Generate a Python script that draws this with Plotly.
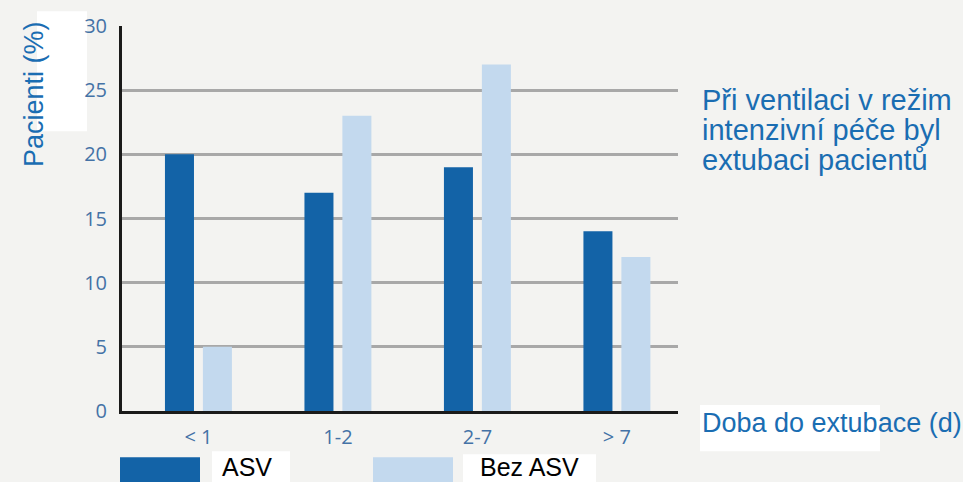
import plotly.graph_objects as go

# ---- data ----
categories = ["< 1", "1-2", "2-7", "> 7"]
asv = [20, 17, 19, 14]
bez_asv = [5, 23, 27, 12]
y_ticks = [0, 5, 10, 15, 20, 25, 30]
series_names = ["ASV", "Bez ASV"]
y_title = "Pacienti (%)"
x_title = "Doba do extubace (d)"
side_text = ["Při ventilaci v režim", "intenzivní péče byl", "extubaci pacientů"]

# ---- layout geometry (pixels) ----
W, H = 963, 482
L, R, T, B = 122, 678, 20, 411
PW, PH = R - L, B - T

def px(x):
    return (x - L) / PW

def py(y):
    return (B - y) / PH

C_ASV = "#1363a7"
C_BEZ = "#c3d9ee"
TXT = "#1a6db2"
TICK = "#4472a6"

fig = go.Figure()
fig.add_trace(go.Bar(x=categories, y=asv, name=series_names[0], marker_color=C_ASV,
                     width=0.208, offset=-0.240, marker_line_width=0))
fig.add_trace(go.Bar(x=categories, y=bez_asv, name=series_names[1], marker_color=C_BEZ,
                     width=0.208, offset=0.032, marker_line_width=0))

shapes = []
# white text boxes of the slide
for (x0, y0, x1, y1) in [(37, 5, 87, 127), (212, 452, 290, 490), (463, 455, 596, 490), (700, 405, 880, 452)]:
    shapes.append(dict(type="rect", xref="paper", yref="paper", x0=px(x0), x1=px(x1),
                       y0=py(y1), y1=py(y0), fillcolor="white", line_width=0, layer="below"))
# legend swatches
shapes.append(dict(type="rect", xref="paper", yref="paper", x0=px(120), x1=px(200),
                   y0=py(495), y1=py(458), fillcolor=C_ASV, line_width=0))
shapes.append(dict(type="rect", xref="paper", yref="paper", x0=px(373), x1=px(453),
                   y0=py(495), y1=py(458), fillcolor=C_BEZ, line_width=0))

annotations = []
annotations.append(dict(text=y_title, textangle=-90, xref="paper", yref="paper",
                        x=px(34), y=py(89), xanchor="center", yanchor="middle", showarrow=False,
                        font=dict(family="Liberation Sans", size=27, color=TXT)))
for i, line in enumerate(side_text):
    annotations.append(dict(text=line, xref="paper", yref="paper", x=px(701), y=py(95 + 30.5 * i),
                            xanchor="left", yanchor="middle", showarrow=False, borderpad=0,
                            font=dict(family="Liberation Sans", size=29, color=TXT)))
annotations.append(dict(text=x_title, xref="paper", yref="paper", x=px(701), y=py(423),
                        xanchor="left", yanchor="middle", showarrow=False, borderpad=0,
                        font=dict(family="Liberation Sans", size=27, color=TXT)))
annotations.append(dict(text=series_names[0], xref="paper", yref="paper", x=px(221), y=py(468),
                        xanchor="left", yanchor="middle", showarrow=False, borderpad=0,
                        font=dict(family="Liberation Sans", size=25, color="black")))
annotations.append(dict(text=series_names[1], xref="paper", yref="paper", x=px(479), y=py(468),
                        xanchor="left", yanchor="middle", showarrow=False, borderpad=0,
                        font=dict(family="Liberation Sans", size=25, color="black")))

fig.update_layout(
    width=W, height=H,
    margin=dict(l=L, r=W - R, t=T, b=H - B, pad=0),
    paper_bgcolor="#f3f3f1",
    plot_bgcolor="rgba(0,0,0,0)",
    showlegend=False,
    barmode="group",
    shapes=shapes,
    annotations=annotations,
    xaxis=dict(type="category", range=[-0.548, 3.438], showgrid=False, zeroline=False,
               showline=True, linecolor="#1a1a1a", linewidth=3,
               ticks="outside", ticklen=6, tickcolor="rgba(0,0,0,0)",
               tickfont=dict(family="Open Sans", size=20, color=TICK)),
    yaxis=dict(range=[0, 30], tickvals=y_ticks, showgrid=True, gridcolor="#a8a8a8", gridwidth=3,
               zeroline=False, showline=True, linecolor="#1a1a1a", linewidth=3,
               ticks="outside", ticklen=8, tickcolor="rgba(0,0,0,0)",
               tickfont=dict(family="Open Sans", size=20, color=TICK)),
)

fig.write_html("out.html")
